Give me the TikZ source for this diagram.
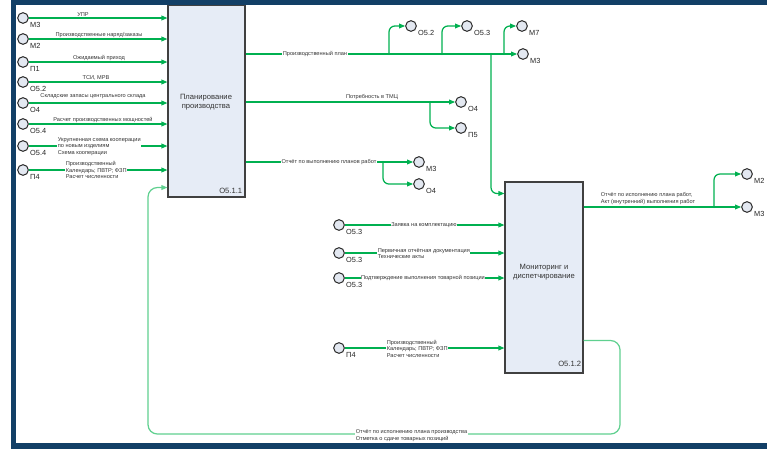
\documentclass[tikz,border=0pt]{standalone}
\usepackage{fontspec}
\setmainfont{Liberation Sans}
\usepackage{tikz}
\usetikzlibrary{arrows.meta, positioning, calc}
\definecolor{FrameNavy}{HTML}{123F66}
\definecolor{FlowGreen}{HTML}{00B050}
\definecolor{LoopGreen}{HTML}{5FD08F}
\definecolor{BoxFill}{HTML}{E6ECF6}
\definecolor{PortFill}{HTML}{E3E8F1}
\tikzset{
  flow/.style={FlowGreen, line width=1.05pt, -{Triangle[length=1.8mm,width=1.4mm]}},
  fbflow/.style={LoopGreen, line width=1.05pt, -{Triangle[length=1.8mm,width=1.4mm]}},
  port/.style={circle, draw=black!80, fill=PortFill, line width=0.9pt, minimum size=0.32cm, inner sep=0pt},
  portlbl/.style={anchor=west, inner sep=0pt, font=\fontsize{6.3}{7}\selectfont, text=black!85},
  flowlbl/.style={inner sep=0.5pt, font=\fontsize{4.8}{5.6}\selectfont, text=black!80},
  procbox/.style={draw=black!75, fill=BoxFill, line width=0.9pt, inner sep=0pt},
  procname/.style={align=center, font=\fontsize{6.5}{8}\selectfont, text=black!80},
  procid/.style={anchor=south east, inner sep=1pt, font=\fontsize{6.5}{7}\selectfont, text=black!80}
}
\begin{document}
\begin{tikzpicture}[x=0.03cm, y=-0.03cm]
    \useasboundingbox (0,0) rectangle (767,449);

    % Process boxes
    \node[procbox, minimum width=2.31cm, minimum height=5.76cm] (plan) at (206.5,101) {};
    \node[procname] (planname) at (206,102) {Планирование\\производства};
    \node[procid] (planid) at ($(plan.south east)+(-2,-3)$) {О5.1.1};

    \node[procbox, minimum width=2.34cm, minimum height=5.73cm] (mon) at (544,277.5) {};
    \node[procname] (monname) at (544,272) {Мониторинг и\\диспетчирование};
    \node[procid] (monid) at ($(mon.south east)+(-1,-6)$) {О5.1.2};

    % Inputs of the planning box
    \foreach \id/\y/\code in {a/18/М3, b/39/М2, c/62/П1, d/82/О5.2, e/103/О4, f/124/О5.4, g/146/О5.4, h/170/П4} {
        \node[port] (in\id) at (23,\y) {};
        \node[portlbl] (lbl\id) at ($(in\id)+(7,7)$) {\code};
        \draw[flow] (in\id) -- (in\id -| plan.west);
    }
    \node[flowlbl, anchor=south] (tupr) at (83,17) {УПР};
    \node[flowlbl, anchor=south] (torder) at (99,38) {Производственные наряд/заказы};
    \node[flowlbl, anchor=south] (tincome) at (99,61) {Ожидаемый приход};
    \node[flowlbl, anchor=south] (ttsi) at (96,81) {ТСИ, МРВ};
    \node[flowlbl, anchor=south] (tstock) at (93,99.5) {Складские запасы центрального склада};
    \node[flowlbl, anchor=south] (tcap) at (103,123.5) {Расчет производственных мощностей};
    \node[flowlbl, fill=white, align=left, anchor=west] (tcoop) at (57,146.5) {Укрупненная схема кооперации\\по новым изделиям\\Схема кооперации};
    \node[flowlbl, fill=white, align=left, anchor=west] (tcal) at (65,170) {Производственный\\Календарь; ПВТР; ФЗП\\Расчет численности};

    % Outputs of the planning box
    \node[port] (o52) at (411,26) {};
    \node[portlbl] (lo52) at ($(o52)+(7,7)$) {О5.2};
    \node[port] (o53) at (467,26) {};
    \node[portlbl] (lo53) at ($(o53)+(7,7)$) {О5.3};
    \node[port] (m7) at (522,26) {};
    \node[portlbl] (lm7) at ($(m7)+(7,7)$) {М7};
    \node[port] (m3a) at (523,54) {};
    \node[portlbl] (lm3a) at ($(m3a)+(7,7)$) {М3};

    \coordinate (j1) at (389,54);
    \coordinate (j2) at (442,54);
    \coordinate (j3) at (491,54);
    \coordinate (j4) at (504,54);
    \draw[flow] (m3a -| plan.east) -- (m3a);
    \draw[flow, rounded corners=5pt] (j1) |- (o52);
    \draw[flow, rounded corners=5pt] (j2) |- (o53);
    \draw[flow, rounded corners=5pt] (j4) |- (m7);
    \draw[flow, rounded corners=5pt] (j3) |- ($(mon.north west)+(0,12)$);
    \node[flowlbl, fill=white] (tplan) at (315,54) {Производственный план};

    \node[port] (o4a) at (461,102) {};
    \node[portlbl] (lo4a) at ($(o4a)+(7,7)$) {О4};
    \node[port] (p5) at (461,128) {};
    \node[portlbl] (lp5) at ($(p5)+(7,7)$) {П5};
    \coordinate (j5) at (430,102);
    \draw[flow] (o4a -| plan.east) -- (o4a);
    \draw[flow, rounded corners=5pt] (j5) |- (p5);
    \node[flowlbl, anchor=south] (tneed) at (372,100) {Потребность в ТМЦ};

    \node[port] (m3b) at (419,162) {};
    \node[portlbl] (lm3b) at ($(m3b)+(7,7)$) {М3};
    \node[port] (o4b) at (419,184) {};
    \node[portlbl] (lo4b) at ($(o4b)+(7,7)$) {О4};
    \coordinate (j6) at (383,162);
    \draw[flow] (m3b -| plan.east) -- (m3b);
    \draw[flow, rounded corners=5pt] (j6) |- (o4b);
    \node[flowlbl, fill=white] (treport) at (329,162) {Отчёт по выполнению планов работ};

    % Inputs of the monitoring box
    \node[port] (k1) at (339,225) {};
    \node[portlbl] (lk1) at ($(k1)+(7,7)$) {О5.3};
    \node[port] (k2) at (339,253) {};
    \node[portlbl] (lk2) at ($(k2)+(7,7)$) {О5.3};
    \node[port] (k3) at (339,278) {};
    \node[portlbl] (lk3) at ($(k3)+(7,7)$) {О5.3};
    \node[port] (k4) at (339,348) {};
    \node[portlbl] (lk4) at ($(k4)+(7,7)$) {П4};
    \foreach \k in {k1,k2,k3,k4}
        \draw[flow] (\k) -- (\k -| mon.west);
    \node[flowlbl, fill=white] (treq) at (424,225) {Заявка на комплектацию};
    \node[flowlbl, fill=white, align=left, anchor=west] (tdocs) at (377,253.5) {Первичная отчётная документация\\Технические акты};
    \node[flowlbl, fill=white] (tconf) at (423,278) {Подтверждение выполнения товарной позиции};
    \node[flowlbl, fill=white, align=left, anchor=west] (tcal2) at (386,348.5) {Производственный\\Календарь; ПВТР; ФЗП\\Расчет численности};

    % Outputs of the monitoring box
    \node[port] (m2c) at (747,174) {};
    \node[portlbl] (lm2c) at ($(m2c)+(7,7)$) {М2};
    \node[port] (m3c) at (747,207) {};
    \node[portlbl] (lm3c) at ($(m3c)+(7,7)$) {М3};
    \coordinate (j7) at (714,207);
    \draw[flow] (m3c -| mon.east) -- (m3c);
    \draw[flow, rounded corners=5pt] (j7) |- (m2c);
    \node[flowlbl, align=left, anchor=south west] (tact) at (600,205) {Отчёт по исполнению плана работ,\\Акт (внутренний) выполнения работ};

    % Feedback loop
    \coordinate (fbr) at (620,434);
    \coordinate (fbl) at (148,434);
    \draw[fbflow, rounded corners=8pt] ($(mon.south east)+(0,-33)$) -| (fbr) -- (fbl) |- ($(plan.south west)+(0,-10)$);
    \node[flowlbl, fill=white, align=left, anchor=west] (tfb) at (355,435.5) {Отчёт по исполнению плана производства\\Отметка о сдаче товарных позиций};

    % Junction dots
    \foreach \j in {j1,j2,j3,j4,j5,j6,j7}
        \fill[FlowGreen] (\j) circle (1pt);

    % Frame
    \fill[FrameNavy] (11,0) rectangle (767,5);
    \fill[FrameNavy] (11,0) rectangle (16,449);
    \fill[FrameNavy] (11,443) rectangle (767,449);
\end{tikzpicture}
\end{document}
